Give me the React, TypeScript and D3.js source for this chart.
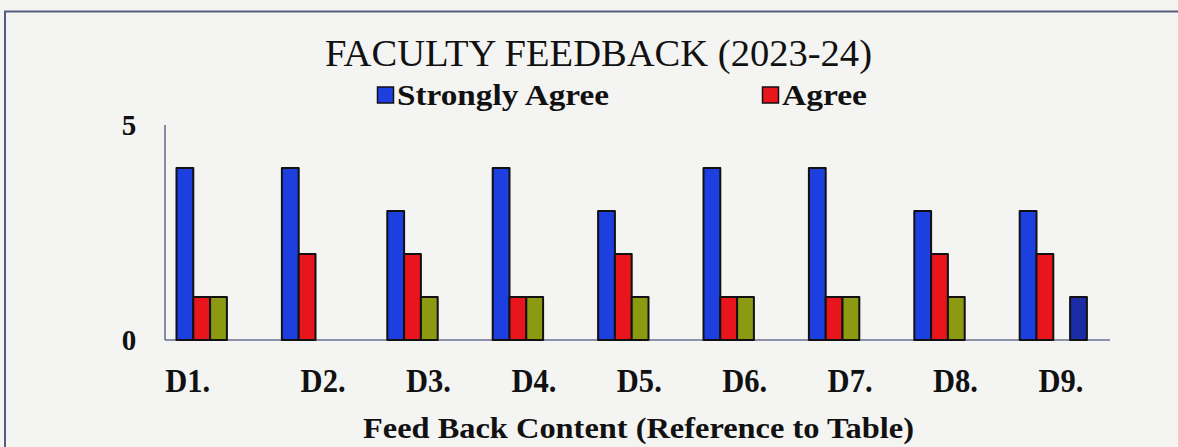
import React from "react";
import * as d3 from "d3";

const categories = ["D1.", "D2.", "D3.", "D4.", "D5.", "D6.", "D7.", "D8.", "D9."];
const stronglyAgree = [4, 4, 3, 4, 3, 4, 4, 3, 3];
const agree = [1, 2, 2, 1, 2, 1, 1, 2, 2];
const neutral = [1, 0, 1, 1, 1, 1, 1, 1, 0];
const disagree = [0, 0, 0, 0, 0, 0, 0, 0, 1];
const yTicks = [0, 5];

const seriesNames = ["Strongly Agree", "Agree", "Neutral", "Disagree"];
const seriesValues = [stronglyAgree, agree, neutral, disagree];
const seriesColors = ["#1d3fe0", "#e8161c", "#8c9a12", "#1c2ba6"];

const W = 1178;
const H = 447;
const SERIF = "'Liberation Serif', 'Times New Roman', serif";

export default function App() {
  const x = d3.scaleBand<string>().domain(categories).range([165, 1113.6]).padding(0);
  const inner = d3
    .scaleBand<string>()
    .domain(seriesNames)
    .range([11.5, 11.5 + 4 * 16.8])
    .padding(0);
  const y = d3.scaleLinear().domain([0, 5]).range([340, 125]);

  const bars: { key: string; x: number; y: number; w: number; h: number; c: string }[] = [];
  seriesValues.forEach((vals, si) => {
    vals.forEach((v, ci) => {
      if (v <= 0) return;
      const bx = (x(categories[ci]) as number) + (inner(seriesNames[si]) as number);
      bars.push({
        key: `${si}-${ci}`,
        x: bx,
        y: y(v),
        w: inner.bandwidth(),
        h: y(0) - y(v),
        c: seriesColors[si],
      });
    });
  });

  const axisColor = "#6b7090";

  return (
    <svg
      width={W}
      height={H}
      viewBox={`0 0 ${W} ${H}`}
      style={{ position: "absolute", left: 0, top: 0, display: "block" }}
    >
      <rect x={0} y={0} width={W} height={H} fill="#f4f4f3" />
      {/* frame */}
      <path d={`M5,${H + 5} L5,11.5 L${W + 5},11.5`} fill="none" stroke="#555d7e" strokeWidth={2} />

      {/* title */}
      <text
        x={325}
        y={66}
        fontFamily={SERIF}
        fontSize={38}
        fill="#111"
        textLength={547}
        lengthAdjust="spacingAndGlyphs"
      >
        FACULTY FEEDBACK (2023-24)
      </text>

      {/* legend */}
      <rect x={377.5} y={87} width={16} height={16} fill={seriesColors[0]} stroke="#111" strokeWidth={1.5} />
      <text
        x={397}
        y={105}
        fontFamily={SERIF}
        fontWeight="bold"
        fontSize={30}
        fill="#111"
        textLength={212}
        lengthAdjust="spacingAndGlyphs"
      >
        {seriesNames[0]}
      </text>
      <rect x={762.5} y={87} width={16} height={16} fill={seriesColors[1]} stroke="#111" strokeWidth={1.5} />
      <text
        x={782}
        y={105}
        fontFamily={SERIF}
        fontWeight="bold"
        fontSize={30}
        fill="#111"
        textLength={85}
        lengthAdjust="spacingAndGlyphs"
      >
        {seriesNames[1]}
      </text>

      {/* axes */}
      <line x1={165} x2={165} y1={y(5)} y2={y(0)} stroke={axisColor} strokeWidth={1.6} />
      <line x1={165} x2={1110} y1={y(0)} y2={y(0)} stroke={axisColor} strokeWidth={1.6} />

      {yTicks.map((t) => (
        <text
          key={t}
          x={129}
          y={y(t)}
          dy="0.36em"
          textAnchor="middle"
          fontFamily={SERIF}
          fontWeight="bold"
          fontSize={29}
          fill="#111"
        >
          {t}
        </text>
      ))}

      {/* bars */}
      {bars.map((b) => (
        <rect
          key={b.key}
          x={b.x}
          y={b.y}
          width={b.w}
          height={b.h}
          fill={b.c}
          stroke="#111"
          strokeWidth={2}
          strokeLinejoin="round"
        />
      ))}

      {/* category labels */}
      {categories.map((c, i) => (
        <text
          key={c}
          x={(x(c) as number) + x.bandwidth() / 2 + (i === 0 ? -30 : 0)}
          y={392}
          textAnchor="middle"
          fontFamily={SERIF}
          fontWeight="bold"
          fontSize={34}
          fill="#111"
          textLength={45}
          lengthAdjust="spacingAndGlyphs"
        >
          {c}
        </text>
      ))}

      {/* x-axis title */}
      <text
        x={638.5}
        y={438}
        textAnchor="middle"
        fontFamily={SERIF}
        fontWeight="bold"
        fontSize={29}
        fill="#111"
        textLength={551}
        lengthAdjust="spacingAndGlyphs"
      >
        Feed Back Content (Reference to Table)
      </text>
    </svg>
  );
}
